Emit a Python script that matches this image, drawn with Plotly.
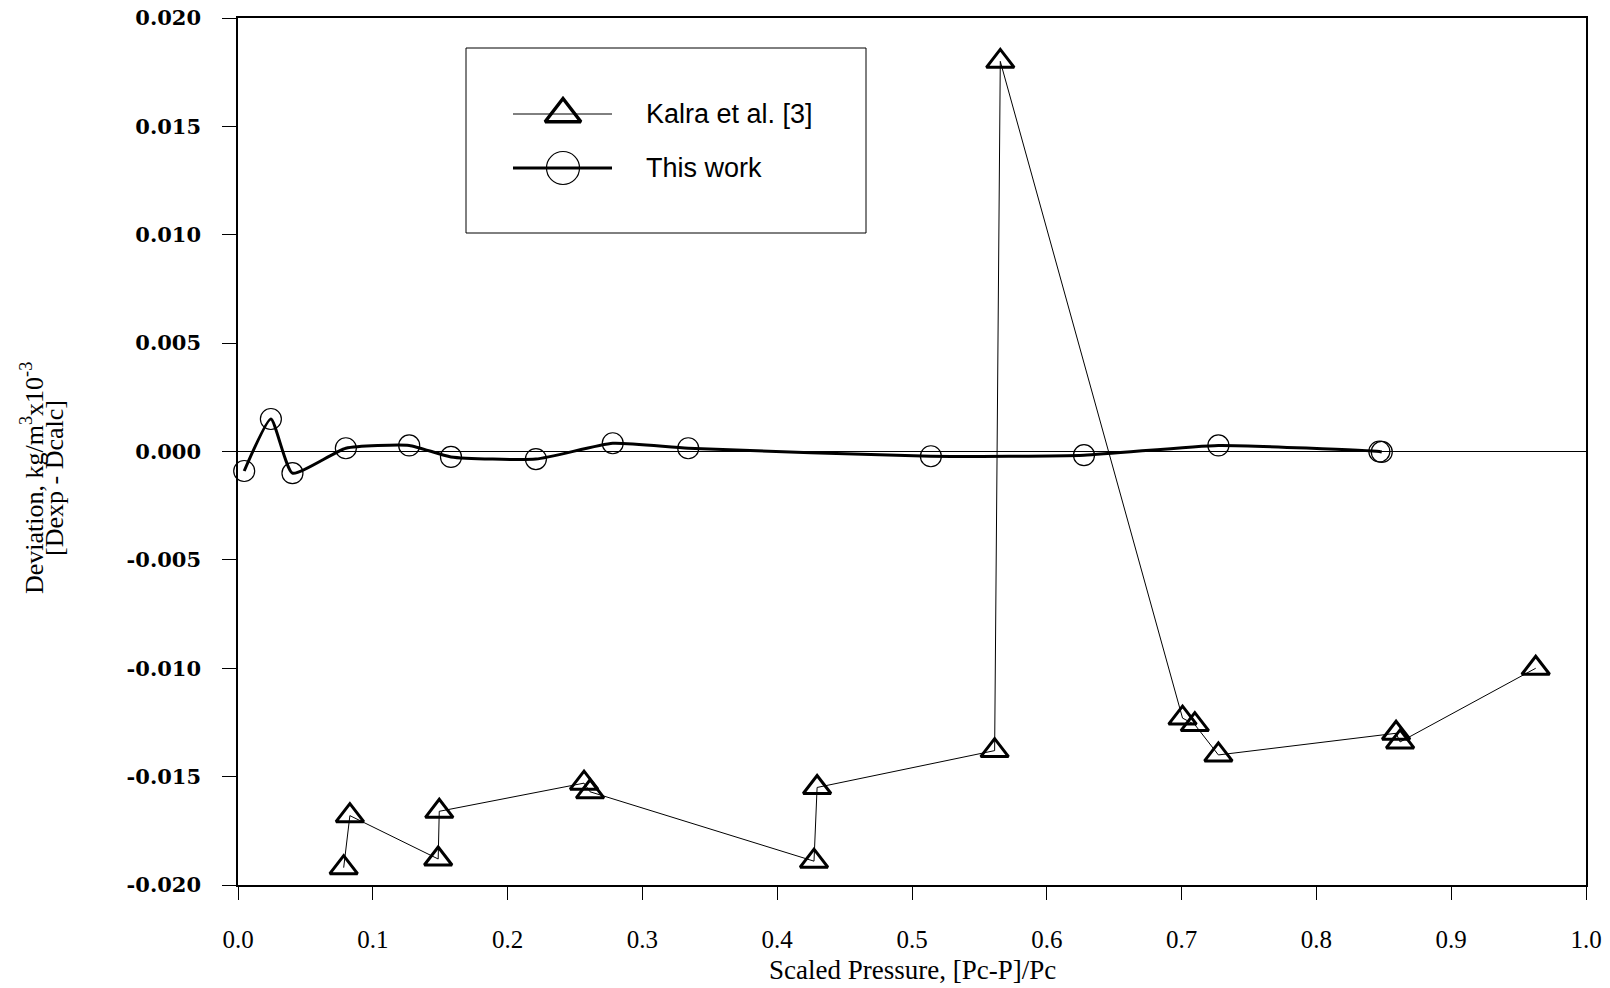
import plotly.graph_objects as go

# ---- data ----
kalra_x = [0.0784, 0.0830, 0.1485, 0.1493, 0.2567, 0.2612, 0.4273, 0.4296,
           0.5613, 0.5655, 0.7007, 0.7098, 0.7273, 0.8591, 0.8621, 0.9627]
kalra_y = [-0.0192, -0.0168, -0.0188, -0.0166, -0.0153, -0.0157, -0.0189, -0.0155,
           -0.0138, 0.0180, -0.0123, -0.0126, -0.0140, -0.0130, -0.0134, -0.0100]

work_x = [0.0046, 0.0244, 0.0404, 0.0800, 0.1270, 0.1580, 0.2210, 0.2780,
          0.3340, 0.5140, 0.6276, 0.7273, 0.8467, 0.8485]
work_y = [-0.0009, 0.0015, -0.0010, 0.00015, 0.00028, -0.00025, -0.00035, 0.00038,
          0.00015, -0.00022, -0.00017, 0.00028, 0.0, -0.00002]

x_ticks = [0.0, 0.1, 0.2, 0.3, 0.4, 0.5, 0.6, 0.7, 0.8, 0.9, 1.0]
x_tick_labels = ["0.0", "0.1", "0.2", "0.3", "0.4", "0.5", "0.6", "0.7", "0.8", "0.9", "1.0"]
y_ticks = [-0.020, -0.015, -0.010, -0.005, 0.0, 0.005, 0.010, 0.015, 0.020]
y_tick_labels = ["-0.020", "-0.015", "-0.010", "-0.005", "0.000", "0.005", "0.010", "0.015", "0.020"]

series_names = ["Kalra et al. [3]", "This work"]
x_title = "Scaled Pressure, [Pc-P]/Pc"
y_title_1 = "Deviation, kg/m<sup>3</sup>x10<sup>-3</sup>"
y_title_2 = "[Dexp - Dcalc]"

# ---- layout geometry (pixels) ----
W, H = 1610, 988
ML, MR, MT, MB = 238, 24, 18, 103
PW, PH = W - ML - MR, H - MT - MB


def px(xp):
    return (xp - ML) / PW


def py(yp):
    return (H - MB - yp) / PH


fig = go.Figure()

fig.add_trace(go.Scatter(
    x=kalra_x, y=kalra_y, mode="lines+markers", name=series_names[0],
    line=dict(color="black", width=1),
    marker=dict(symbol="triangle-up-open", size=24, color="black", line=dict(width=3, color="black")),
    cliponaxis=False, showlegend=False,
))
fig.add_trace(go.Scatter(
    x=work_x, y=work_y, mode="lines+markers", name=series_names[1],
    line=dict(color="black", width=3, shape="spline", smoothing=0.5),
    marker=dict(symbol="circle-open", size=21, color="black", line=dict(width=1.2, color="black")),
    cliponaxis=False, showlegend=False,
))

# ---- hand-drawn legend (box, sample lines, sample markers, texts) ----
leg_x0, leg_x1 = px(466), px(866)
leg_y0, leg_y1 = py(233), py(48)
row_y = [py(114), py(168)]
samp_x0, samp_x1, samp_xm = px(513), px(612), px(563)
text_x = px(644)

shapes = [
    dict(type="rect", xref="paper", yref="paper", x0=leg_x0, x1=leg_x1, y0=leg_y0, y1=leg_y1,
         line=dict(color="black", width=1), fillcolor="white", layer="below"),
    dict(type="line", xref="paper", yref="paper", x0=samp_x0, x1=samp_x1, y0=row_y[0], y1=row_y[0],
         line=dict(color="black", width=1)),
    dict(type="line", xref="paper", yref="paper", x0=samp_x0, x1=samp_x1, y0=row_y[1], y1=row_y[1],
         line=dict(color="black", width=3)),
]

fig.add_trace(go.Scatter(
    x=[samp_xm], y=[row_y[0]], xaxis="x2", yaxis="y2", mode="markers",
    marker=dict(symbol="triangle-up-open", size=31, color="black", line=dict(width=3.5, color="black")),
    showlegend=False, hoverinfo="skip", cliponaxis=False,
))
fig.add_trace(go.Scatter(
    x=[samp_xm], y=[row_y[1]], xaxis="x2", yaxis="y2", mode="markers",
    marker=dict(symbol="circle-open", size=33, color="black", line=dict(width=1.2, color="black")),
    showlegend=False, hoverinfo="skip", cliponaxis=False,
))

annotations = [
    dict(xref="paper", yref="paper", x=text_x, y=row_y[0], xanchor="left", yanchor="middle",
         text=series_names[0], showarrow=False,
         font=dict(family="Liberation Sans, Arial", size=27, color="black")),
    dict(xref="paper", yref="paper", x=text_x, y=row_y[1], xanchor="left", yanchor="middle",
         text=series_names[1], showarrow=False,
         font=dict(family="Liberation Sans, Arial", size=27, color="black")),
    dict(xref="paper", yref="paper", x=0.5, y=py(970), xanchor="center", yanchor="middle",
         text=x_title, showarrow=False,
         font=dict(family="Liberation Serif, Times New Roman", size=27, color="black")),
    dict(xref="paper", yref="paper", x=px(32), y=py(478), xanchor="center", yanchor="middle",
         text=y_title_1, textangle=-90, showarrow=False,
         font=dict(family="Liberation Serif, Times New Roman", size=26, color="black")),
    dict(xref="paper", yref="paper", x=px(54), y=py(478), xanchor="center", yanchor="middle",
         text=y_title_2, textangle=-90, showarrow=False,
         font=dict(family="Liberation Serif, Times New Roman", size=26, color="black")),
]

fig.update_layout(
    width=W, height=H,
    margin=dict(l=ML, r=MR, t=MT, b=MB, pad=0, autoexpand=False),
    paper_bgcolor="white", plot_bgcolor="white",
    showlegend=False,
    shapes=shapes,
    annotations=annotations,
    xaxis=dict(
        range=[0, 1], tickvals=x_ticks, ticktext=x_tick_labels, automargin=False,
        ticks="outside", ticklen=13, tickwidth=1, tickcolor="black",
        showline=True, linecolor="black", linewidth=1.5, mirror=True,
        showgrid=False, zeroline=False, ticklabelstandoff=18,
        tickfont=dict(family="Liberation Serif, Times New Roman", size=25, color="black"),
    ),
    yaxis=dict(
        range=[-0.02, 0.02], tickvals=y_ticks, ticktext=y_tick_labels, automargin=False,
        ticks="outside", ticklen=14, tickwidth=1, tickcolor="black",
        showline=True, linecolor="black", linewidth=1.5, mirror=True,
        showgrid=False, zeroline=True, zerolinecolor="black", zerolinewidth=1,
        ticklabelstandoff=17,
        tickfont=dict(family="DejaVu Serif", size=21, color="black", weight="bold"),
    ),
    xaxis2=dict(overlaying="x", range=[0, 1], visible=False, fixedrange=True, automargin=False),
    yaxis2=dict(overlaying="y", range=[0, 1], visible=False, fixedrange=True, automargin=False),
)

fig.write_html("out.html")
